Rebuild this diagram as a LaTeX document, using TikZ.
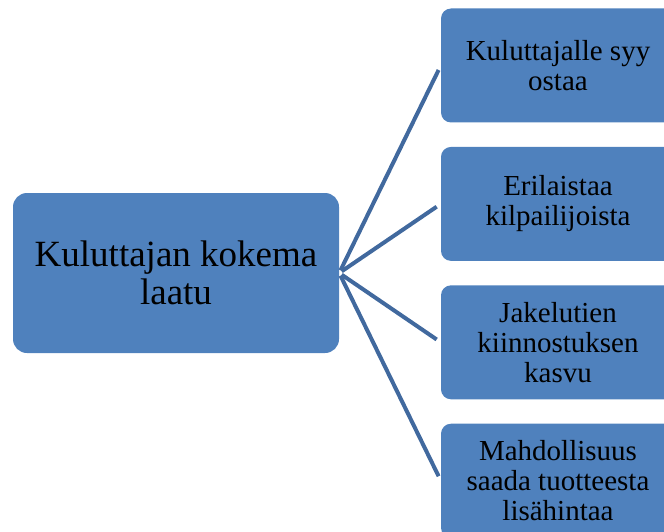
\documentclass[tikz,border=0pt]{standalone}
\usepackage{fontspec}
\setmainfont{Liberation Serif}
\usetikzlibrary{positioning}

\definecolor{boxblue}{HTML}{4F81BD}
\definecolor{linkblue}{HTML}{41699E}

\begin{document}
\begin{tikzpicture}[
			x=1pt, y=-1pt,
			box/.style={fill=boxblue, text=black, align=center, inner sep=0pt},
			small/.style={box, minimum width=234pt, minimum height=114pt,
				rounded corners=10pt, font=\fontsize{29}{30}\selectfont},
			link/.style={draw=linkblue, line width=4pt, shorten <=3pt, shorten >=5pt},
			node distance=24pt]
		\clip (0,0) rectangle (664,532);
		\node[box, minimum width=326pt, minimum height=160pt, rounded corners=14pt,
			font=\fontsize{37}{38}\selectfont] (laatu) at (176,273) {Kuluttajan kokema\\laatu};

		\node[small] (syy) at (558,65.5) {Kuluttajalle syy\\ostaa};
		\node[small, below =of syy] (erilaistaa) {Erilaistaa\\kilpailijoista};
		\node[small, below =of erilaistaa] (jakelu) {Jakelutien\\kiinnostuksen\\kasvu};
		\node[small, below =of jakelu] (hinta) {Mahdollisuus\\saada tuotteesta\\lisähintaa};

		\foreach \to in {syy, erilaistaa, jakelu, hinta}
			\draw[link] (laatu.east) -- (\to.west);
	\end{tikzpicture}
\end{document}
